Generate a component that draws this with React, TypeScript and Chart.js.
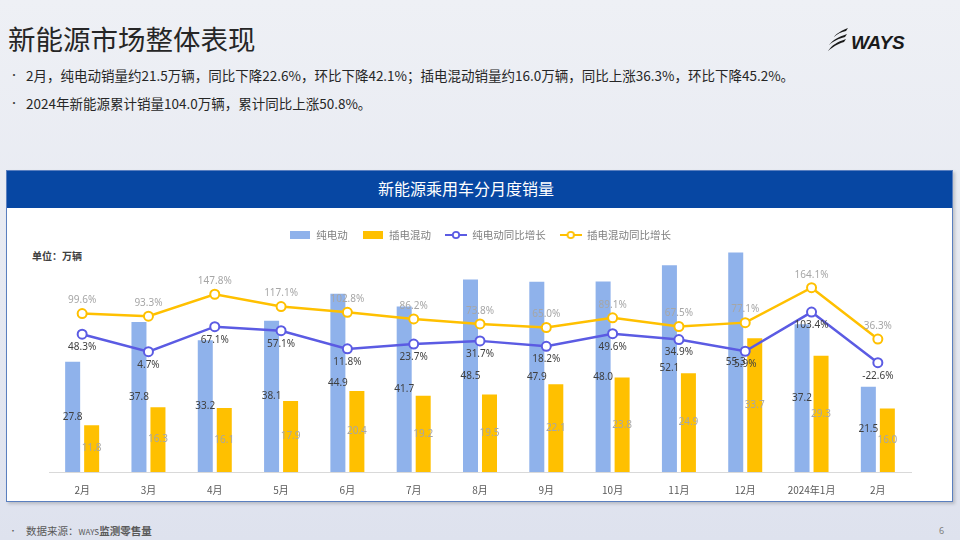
import React, { useEffect, useRef } from 'react';
import { Chart, registerables } from 'chart.js';

Chart.register(...registerables);

// ---------- data ----------
const months = ['2月', '3月', '4月', '5月', '6月', '7月', '8月', '9月', '10月', '11月', '12月', '2024年1月', '2月'];
const bevSales = [27.8, 37.8, 33.2, 38.1, 44.9, 41.7, 48.5, 47.9, 48.0, 52.1, 55.3, 37.2, 21.5];
const phevSales = [11.8, 16.3, 16.1, 17.9, 20.4, 19.2, 19.5, 22.1, 23.8, 24.9, 33.7, 29.3, 16.0];
const bevYoY = [48.3, 4.7, 67.1, 57.1, 11.8, 23.7, 31.7, 18.2, 49.6, 34.9, 5.9, 103.4, -22.6];
const phevYoY = [99.6, 93.3, 147.8, 117.1, 102.8, 86.2, 73.8, 65.0, 89.1, 67.5, 77.1, 164.1, 36.3];
const seriesNames = ['纯电动', '插电混动', '纯电动同比增长', '插电混动同比增长'];

const BLUE_BAR = '#8fb2eb';
const YELLOW = '#ffc000';
const BLUE_LINE = '#5b5be3';
const CJK = '"Noto Sans CJK SC", "Noto Sans", sans-serif';
const NUM = '"Noto Sans", "Liberation Sans", sans-serif';

function makeBarSwatch(color: string) {
  const c = document.createElement('canvas');
  c.width = 20;
  c.height = 8;
  const g = c.getContext('2d')!;
  g.fillStyle = color;
  g.fillRect(0, 0, 20, 8);
  return c;
}

function makeLineSwatch(color: string) {
  const c = document.createElement('canvas');
  c.width = 22;
  c.height = 10;
  const g = c.getContext('2d')!;
  g.strokeStyle = color;
  g.lineWidth = 2;
  g.beginPath();
  g.moveTo(0, 5);
  g.lineTo(22, 5);
  g.stroke();
  g.beginPath();
  g.arc(11, 5, 3.2, 0, Math.PI * 2);
  g.fillStyle = '#ffffff';
  g.fill();
  g.lineWidth = 1.8;
  g.stroke();
  return c;
}

const valueLabelPlugin = {
  id: 'valueLabels',
  afterDatasetsDraw(chart: any) {
    const ctx = chart.ctx;
    ctx.save();
    ctx.textAlign = 'center';
    ctx.textBaseline = 'middle';
    chart.data.datasets.forEach((ds: any, i: number) => {
      const meta = chart.getDatasetMeta(i);
      if (meta.hidden) return;
      meta.data.forEach((el: any, j: number) => {
        const v = ds.data[j];
        if (ds.type === 'line') {
          const { x, y } = el.getProps(['x', 'y'], true);
          ctx.font = `10px ${NUM}`;
          if (ds.labelPos === 'below') {
            ctx.fillStyle = '#404040';
            ctx.fillText(v.toFixed(1) + '%', x, y + 13);
          } else {
            ctx.fillStyle = '#a6a6a6';
            ctx.fillText(v.toFixed(1) + '%', x, y - 13);
          }
        } else {
          const { x, y, base } = el.getProps(['x', 'y', 'base'], true);
          ctx.font = `10px ${NUM}`;
          ctx.fillStyle = ds.labelColor;
          ctx.fillText(v.toFixed(1), x, (y + base) / 2);
        }
      });
    });
    ctx.restore();
  },
};

function SalesChart() {
  const ref = useRef<HTMLCanvasElement | null>(null);
  useEffect(() => {
    if (!ref.current) return;
    const swatches = [
      makeBarSwatch(BLUE_BAR),
      makeBarSwatch(YELLOW),
      makeLineSwatch(BLUE_LINE),
      makeLineSwatch(YELLOW),
    ];
    const chart = new Chart(ref.current, {
      type: 'bar',
      data: {
        labels: months,
        datasets: [
          {
            type: 'bar',
            label: seriesNames[0],
            data: bevSales,
            backgroundColor: BLUE_BAR,
            yAxisID: 'y',
            order: 2,
            categoryPercentage: 0.573,
            barPercentage: 0.79,
            labelColor: '#404040',
          } as any,
          {
            type: 'bar',
            label: seriesNames[1],
            data: phevSales,
            backgroundColor: YELLOW,
            yAxisID: 'y',
            order: 2,
            categoryPercentage: 0.573,
            barPercentage: 0.79,
            labelColor: '#a6a6a6',
          } as any,
          {
            type: 'line',
            label: seriesNames[2],
            data: bevYoY,
            borderColor: BLUE_LINE,
            backgroundColor: '#ffffff',
            borderWidth: 2.5,
            pointRadius: 4.5,
            pointBorderWidth: 2,
            pointBackgroundColor: '#ffffff',
            pointBorderColor: BLUE_LINE,
            tension: 0,
            yAxisID: 'y1',
            order: 0,
            labelPos: 'below',
          } as any,
          {
            type: 'line',
            label: seriesNames[3],
            data: phevYoY,
            borderColor: YELLOW,
            backgroundColor: '#ffffff',
            borderWidth: 2.5,
            pointRadius: 4.5,
            pointBorderWidth: 2,
            pointBackgroundColor: '#ffffff',
            pointBorderColor: YELLOW,
            tension: 0,
            yAxisID: 'y1',
            order: 1,
            labelPos: 'above',
          } as any,
        ],
      },
      options: {
        animation: false,
        responsive: false,
        devicePixelRatio: 1,
        events: [],
        layout: { padding: { left: 42, right: 41, top: 8.75, bottom: 0 } },
        plugins: {
          tooltip: { enabled: false },
          title: { display: false },
          legend: {
            display: true,
            position: 'top',
            align: 'center',
            labels: {
              usePointStyle: true,
              pointStyleWidth: 22,
              padding: 14,
              color: '#7f7f7f',
              font: { family: CJK, size: 10.5 },
              generateLabels: (ch: any) =>
                ch.data.datasets.map((ds: any, i: number) => ({
                  text: ds.label,
                  pointStyle: swatches[i],
                  datasetIndex: i,
                  hidden: !ch.isDatasetVisible(i),
                  fillStyle: 'transparent',
                  strokeStyle: 'transparent',
                  lineWidth: 0,
                  fontColor: '#7f7f7f',
                })),
            },
          },
        },
        scales: {
          x: {
            grid: { display: false, drawTicks: false },
            border: { display: true, color: '#d9d9d9', width: 1 },
            ticks: { color: '#595959', font: { family: CJK, size: 10 }, padding: 12, maxRotation: 0, autoSkip: false },
          },
          y: {
            display: false,
            min: 0,
            max: 55.86,
          },
          y1: {
            display: false,
            min: -294.7,
            max: 257.3,
          },
        },
      } as any,
      plugins: [valueLabelPlugin],
    });
    return () => chart.destroy();
  }, []);
  return <canvas ref={ref} width={945} height={301} style={{ width: 945, height: 301, display: 'block' }} />;
}

export default function App() {
  const abs = (s: React.CSSProperties): React.CSSProperties => ({ position: 'absolute', whiteSpace: 'nowrap', ...s });
  return (
    <div
      style={{
        position: 'fixed',
        left: 0,
        top: 0,
        width: 960,
        height: 540,
        overflow: 'hidden',
        background: 'linear-gradient(180deg, #eef0f5 0%, #e6e9f1 55%, #dee2ee 100%)',
        fontFamily: CJK,
      }}
    >
      {/* page title */}
      <div style={abs({ left: 8, top: 23, fontSize: 27.5, lineHeight: '30px', color: '#262626' })}>新能源市场整体表现</div>

      {/* logo */}
      <svg style={{ position: 'absolute', left: 826, top: 26 }} width={24} height={26} viewBox="0 0 24 26">
        <path d="M2 25 C6 19, 11 16, 20 13 L18 16 C11 18, 7 21, 2 25 Z" fill="#1a1a1a" />
        <path d="M3 19 C7 14, 12 11, 21 8 L19 11 C12 13, 8 15, 3 19 Z" fill="#1a1a1a" />
        <path d="M8 11 C11 7, 15 5, 22 2 L20 5 C15 6, 11 8, 8 11 Z" fill="#1a1a1a" />
      </svg>
      <div
        style={abs({
          left: 851,
          top: 33,
          fontSize: 19,
          lineHeight: '19px',
          fontFamily: '"Liberation Sans", sans-serif',
          fontWeight: 700,
          fontStyle: 'italic',
          color: '#1a1a1a',
          letterSpacing: -0.3,
        })}
      >
        WAYS
      </div>

      {/* bullets */}
      <div style={abs({ left: 9, top: 66, fontSize: 10, lineHeight: '18px', color: '#404040' })}>•</div>
      <div style={abs({ left: 26, top: 66, fontSize: 13.5, lineHeight: '18px', color: '#262626' })}>
        2月，纯电动销量约21.5万辆，同比下降22.6%，环比下降42.1%；插电混动销量约16.0万辆，同比上涨36.3%，环比下降45.2%。
      </div>
      <div style={abs({ left: 9, top: 94, fontSize: 10, lineHeight: '18px', color: '#404040' })}>•</div>
      <div style={abs({ left: 26, top: 94, fontSize: 13.5, lineHeight: '18px', color: '#262626' })}>
        2024年新能源累计销量104.0万辆，累计同比上涨50.8%。
      </div>

      {/* panel */}
      <div
        style={abs({
          left: 6,
          top: 170,
          width: 945,
          height: 330,
          background: '#ffffff',
          border: '1px solid #5a7fbf',
          boxShadow: '2px 2px 3px rgba(0,0,0,0.18)',
        })}
      >
        <div style={abs({ left: 0, top: 0, width: 945, height: 37, background: '#0747a3' })} />
      </div>
      <div
        style={abs({ left: 378, top: 178, fontSize: 16, lineHeight: '20px', color: '#ffffff', fontWeight: 400 })}
      >
        新能源乘用车分月度销量
      </div>
      <div style={abs({ left: 32, top: 249, fontSize: 10, lineHeight: '14px', color: '#404040', fontWeight: 700 })}>
        单位：万辆
      </div>

      <div style={abs({ left: 7, top: 207, width: 945, height: 301 })}>
        <SalesChart />
      </div>

      {/* footer */}
      <div style={abs({ left: 9, top: 524, fontSize: 8, lineHeight: '14px', color: '#595959' })}>•</div>
      <div style={abs({ left: 26, top: 524, fontSize: 10.5, lineHeight: '14px', color: '#595959' })}>
        数据来源：<span style={{ fontSize: 8 }}>WAYS</span>
        <span style={{ fontWeight: 700 }}>监测零售量</span>
      </div>
      <div style={abs({ left: 939, top: 525, fontSize: 9, lineHeight: '12px', color: '#7f7f7f', fontFamily: NUM })}>6</div>
    </div>
  );
}
